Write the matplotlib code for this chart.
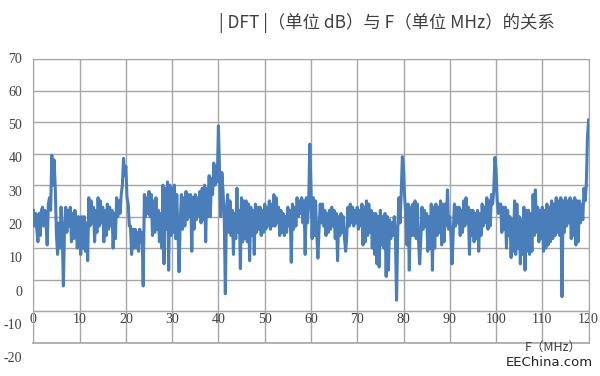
import numpy as np
import matplotlib
matplotlib.use('Agg')
import matplotlib.pyplot as plt

plt.rcParams['font.family'] = ['Noto Sans CJK SC', 'DejaVu Sans']

# |DFT| in dB, one value every 0.25 MHz
dft_db = [
    22, 17, 21, 16,   12, 21, 14, 22,   23, 17, 22, 18,   11, 24, 26, 22,   39.5, 30, 38, 29,
    14, 8, 18, 10,    23, 15, -2, 16,   23, 15, 22, 17,   23, 12, 21, 13,   22, 18, 10, 20,
    19, 8, 20, 10,    20, 9, 18, 6,     26, 17, 25, 18,   23, 12, 22, 15,   26, 17, 25, 18,
    23, 12, 22, 14,   24, 16, 23, 17,   22, 10, 21, 13,   26, 20, 25, 21,   27, 30, 38.5, 33,
    36, 26, 24, 17,   17, 8, 16, 10,    16, 10, 15, 9,    16, 12, 15, -2,   27, 20, 26, 21,
    28, 20, 27, 14,   25, 15, 26, 16,   22, 12, 21, 10,   30, 5, 29, 16,    31, 3, 30, 14,
    29, 15, 30, 13,   27, 16, 2.5, 18,  27, 16, 26, 17,   28, 19, 27, 20,   27, 9, 26, 16,
    27, 19, 26, 20,   28, 18, 29, 19,   30, 12, 29, 20,   33, 20, 32, 27,   37, 30, 36, 31,
    48.8, 35, 20, 34, 28, 21, -4.5, 22, 27, 15, 25, 14,   22, 8, 21, 13,    29, 15, 22, 3.5,
    26, 12, 25, 13,   25, 12, 24, 6,    23, 14, 22, 8,    24, 15, 23, 16,   23, 14, 22, 15,
    24, 16, 23, 17,   25, 16, 24, 17,   27, 17, 26, 18,   23, 14, 22, 15,   21, 14, 20, 15,
    23, 17, 22, 5.5,  24, 16, 23, 17,   26, 20, 25, 21,   26, 18, 25, 8,    26, 18, 24, 43,
    30, 13, 26, 14,   25, 15, 6.8, 16,  24, 18, 24, 17,   22, 14, 21, 15,   22, 16, 23, 17,
    22, 13, 21, 6,    20, 14, 21, 15,   20, 13, 9, 14,    23, 17, 24, 18,   23, 17, 22, 18,
    23, 16, 22, 17,   24, 11, 23, 12,   25, 14, 24, 15,   22, 10, 21, 8,    21, 5, 20, 4,
    22, 11, 20, 10,   21, 1, 20, 3,     19, 13, 18, 14,   20, 14, -6.5, 15, 26, 18, 27, 39,
    36, 26, 21, 11,   24, 3, 23, 14,    24, 14, 25, 13,   24, 12, 5, 13,    23, 16, 22, 17,
    21, 9, 20, 10,    24, 3, 23, 10,    24, 14, 23, 15,   25, 11, 24, 12,   24, 17, 28.5, 16,
    20, 14, 5, 15,    24, 17, 23, 18,   23, 14, 22, 15,   25, 17, 26, 18,   23, 8, 22, 14,
    22, 12, 21, 13,   22, 9, 21, 14,    24, 17, 23, 18,   26, 16, 25, 17,   27, 24, 28, 38.8,
    35, 25, 21, 24,   24, 15, 23, 16,   23, 10, 22, 14,   20, 7, 19, 9,     25, 8, 24, 10,
    20, 5, 19, 8,     23, 3, 22, 9,     22, 8, 21, 9,     27, 14, 28.5, 15, 23, 12, 22, 13,
    23, 9, 22, 10,    24, 11, 23, 12,   25, 13, 24, 14,   26, 15, 25, 14,   26, -5.4, 25, 15,
    26, 17, 25, 18,   26, 13, 25, 14,   26, 11, 25, 12,   25, 18, 24, 19,   29, 25, 30, 45,
    50.7,
]
freq_mhz = np.arange(len(dft_db)) * 0.25

x_ticks = [0, 10, 20, 30, 40, 50, 60, 70, 80, 90, 100, 110, 120]
y_ticks = [-20, -10, 0, 10, 20, 30, 40, 50, 60, 70]

grid_c = '#a6a6a6'
text_c = '#404040'
serif = ['Liberation Serif', 'DejaVu Serif']

fig, ax = plt.subplots(figsize=(6, 3.76), dpi=100)
fig.subplots_adjust(left=0.0555, right=0.981, top=0.843, bottom=0.0886)

ax.plot(freq_mhz, dft_db, color='#4a7ebb', lw=2.2, zorder=3)

ax.set_xlim(0, 120)
ax.set_ylim(-20, 70)
ax.set_xticks(x_ticks)
ax.set_yticks(y_ticks)
ax.set_yticklabels([])
ax.grid(True, color=grid_c, lw=1)
ax.set_axisbelow(True)
for s in ax.spines.values():
    s.set_color(grid_c)
ax.spines['bottom'].set_position(('data', -10))
ax.axhline(-20, color=grid_c, lw=1.2, clip_on=False, zorder=1)
ax.tick_params(length=0, labelsize=10, labelcolor=text_c, pad=1)
for lab in ax.get_xticklabels():
    lab.set_family(serif)

# y labels are spaced a bit wider than the grid in the original
for v in y_ticks:
    ax.annotate(str(v), xy=(0, 70 - (70 - v) * 1.056), xycoords=('axes fraction', 'data'),
                xytext=(-8, 0), textcoords='offset points', ha='right', va='center',
                fontsize=10, color=text_c, family=serif, annotation_clip=False)

fig.text(0.645, 0.94, '| DFT |（单位 dB）与 F（单位 MHz）的关系', ha='center', va='center',
         fontsize=12.5, color=text_c)
fig.text(0.922, 0.077, 'F（MHz）', ha='center', va='center', fontsize=9, color=text_c)
fig.text(0.988, 0.035, 'EEChina.com', ha='right', va='center', fontsize=9.5, color='#222222',
         family=['DejaVu Sans'])

fig.savefig('out.png', dpi=100)
